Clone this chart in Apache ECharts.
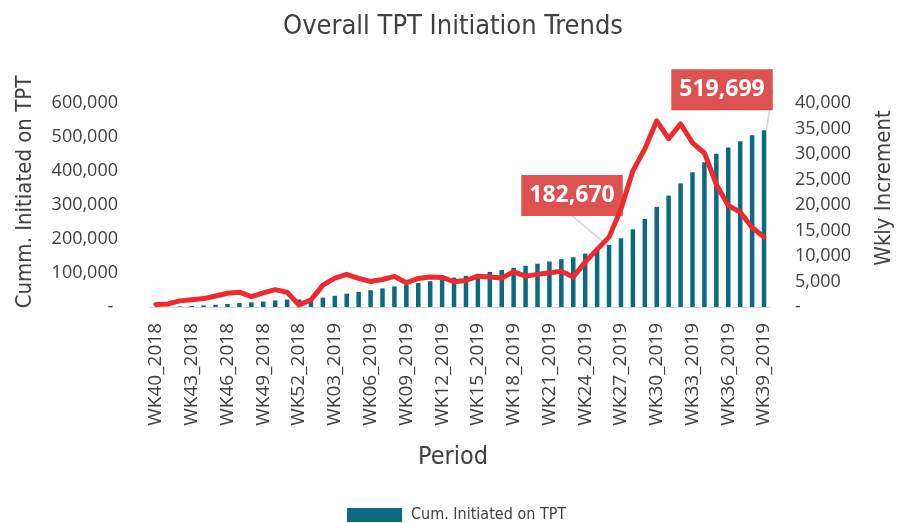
<!DOCTYPE html>
<html>
<head>
<meta charset="utf-8">
<script src="https://cdn.jsdelivr.net/npm/echarts@6/dist/echarts.min.js"></script>
<style>
html,body{margin:0;padding:0;background:#fff;}
#chart{width:899px;height:523px;}
</style>
</head>
<body>
<div id="chart"></div>
<script>
// ---- data ----
const categories = [
  'WK40_2018','WK41_2018','WK42_2018','WK43_2018','WK44_2018','WK45_2018','WK46_2018','WK47_2018','WK48_2018','WK49_2018','WK50_2018','WK51_2018','WK52_2018',
  'WK01_2019','WK02_2019','WK03_2019','WK04_2019','WK05_2019','WK06_2019','WK07_2019','WK08_2019','WK09_2019','WK10_2019','WK11_2019','WK12_2019','WK13_2019',
  'WK14_2019','WK15_2019','WK16_2019','WK17_2019','WK18_2019','WK19_2019','WK20_2019','WK21_2019','WK22_2019','WK23_2019','WK24_2019','WK25_2019','WK26_2019',
  'WK27_2019','WK28_2019','WK29_2019','WK30_2019','WK31_2019','WK32_2019','WK33_2019','WK34_2019','WK35_2019','WK36_2019','WK37_2019','WK38_2019','WK39_2019'
];
const cumInitiated = [
  500, 900, 1900, 3100, 4600, 6500, 9000, 11700, 13500, 16100, 19300, 22000, 22200,
  23400, 27500, 33000, 39200, 44600, 49400, 54600, 60400, 65000, 70400, 76100, 81700, 86500,
  91500, 97400, 103100, 108600, 115300, 121200, 127400, 133900, 140700, 146400, 157000, 168500, 182670,
  202000, 228500, 259000, 294500, 327500, 363500, 396000, 426000, 450500, 469000, 487500, 505000, 519699
];
const wklyIncrement = [
  500, 600, 1200, 1400, 1650, 2150, 2700, 2900, 2050, 2750, 3400, 2900, 400,
  1400, 4300, 5650, 6400, 5600, 5000, 5400, 6000, 4750, 5600, 5900, 5800, 4950,
  5200, 6050, 5900, 5700, 6900, 6050, 6400, 6700, 7000, 5900, 8800, 11300, 13700,
  19200, 26700, 31000, 36500, 33000, 35900, 32200, 30200, 24000, 19900, 18600, 15600, 13700
];
const labeledIndices = [38, 51];
const leftTicks = { min: 0, max: 600000, interval: 100000 };
const rightTicks = { min: 0, max: 40000, interval: 5000 };

const condensed = "'Liberation Sans Narrow', 'DejaVu Sans Condensed', sans-serif";
const tickFont = "'Open Sans', 'Noto Sans', sans-serif";
const textColor = '#404040';

const fmt = v => v === 0 ? '-' : v.toLocaleString('en-US');

const barData = cumInitiated.map((v, i) =>
  labeledIndices.indexOf(i) >= 0 ? { value: v, label: { show: true } } : v);

const chart = echarts.init(document.getElementById('chart'), null, { renderer: 'canvas' });
chart.setOption({
  animation: false,
  backgroundColor: '#ffffff',
  title: {
    text: 'Overall TPT Initiation Trends',
    left: 453,
    textAlign: 'center',
    top: 13,
    padding: 0,
    textStyle: { fontFamily: condensed, fontSize: 27, fontWeight: 'normal', color: textColor }
  },
  legend: {
    data: ['Cum. Initiated on TPT'],
    left: 342,
    top: 502,
    itemWidth: 55,
    itemHeight: 14,
    icon: 'rect',
    textStyle: { fontFamily: condensed, fontSize: 16, color: textColor, padding: [0, 0, 0, 4] }
  },
  graphic: [
    {
      type: 'text', x: 25, y: 192, rotation: Math.PI / 2,
      style: { text: 'Cumm. Initiated on TPT', fontFamily: condensed, fontSize: 22, fill: textColor, align: 'center', verticalAlign: 'middle' }
    },
    {
      type: 'text', x: 884, y: 188, rotation: Math.PI / 2,
      style: { text: 'Wkly Increment', fontFamily: condensed, fontSize: 22, fill: textColor, align: 'center', verticalAlign: 'middle' }
    },
    {
      type: 'text', x: 453, y: 457,
      style: { text: 'Period', fontFamily: condensed, fontSize: 25, fill: textColor, align: 'center', verticalAlign: 'middle' }
    }
  ],
  grid: { left: 150, right: 129, top: 103, bottom: 216, containLabel: false },
  xAxis: {
    type: 'category',
    data: categories,
    boundaryGap: true,
    axisLine: { show: true, lineStyle: { color: '#D9D9D9', width: 1 } },
    axisTick: { show: false },
    axisLabel: {
      interval: 2, rotate: 90, margin: 16,
      fontFamily: tickFont, fontSize: 19, color: textColor
    }
  },
  yAxis: [
    {
      type: 'value', min: leftTicks.min, max: leftTicks.max, interval: leftTicks.interval,
      axisLine: { show: false }, axisTick: { show: false }, splitLine: { show: false },
      axisLabel: { margin: 32, fontFamily: tickFont, fontSize: 18, color: textColor,
        formatter: v => v === 0 ? '- ' : v.toLocaleString('en-US') }
    },
    {
      type: 'value', min: rightTicks.min, max: rightTicks.max, interval: rightTicks.interval,
      axisLine: { show: false }, axisTick: { show: false }, splitLine: { show: false },
      axisLabel: { margin: 25, fontFamily: tickFont, fontSize: 18, color: textColor, formatter: fmt }
    }
  ],
  series: [
    {
      name: 'Cum. Initiated on TPT',
      type: 'bar',
      yAxisIndex: 0,
      data: barData,
      barWidth: 4.5,
      itemStyle: { color: '#0B6A80' },
      z: 2,
      label: {
        show: false,
        position: 'top',
        distance: 5,
        formatter: p => p.value.toLocaleString('en-US'),
        backgroundColor: '#DD514E',
        color: '#ffffff',
        fontFamily: tickFont,
        fontWeight: 'bold',
        fontSize: 23,
        lineHeight: 23,
        padding: [9, 8, 9, 8]
      },
      labelLine: { show: true, lineStyle: { color: '#D5D5D5', width: 1.5 } },
      labelLayout: p => p.dataIndex === 38 ? { dx: -37, dy: -24 } : (p.dataIndex === 51 ? { dx: -42, dy: -15 } : {})
    },
    {
      name: 'Wkly Increment',
      type: 'line',
      yAxisIndex: 1,
      data: wklyIncrement,
      symbol: 'none',
      smooth: false,
      z: 3,
      lineStyle: { color: '#EE2A2E', width: 5, cap: 'round', join: 'round' }
    }
  ]
});
</script>
</body>
</html>
